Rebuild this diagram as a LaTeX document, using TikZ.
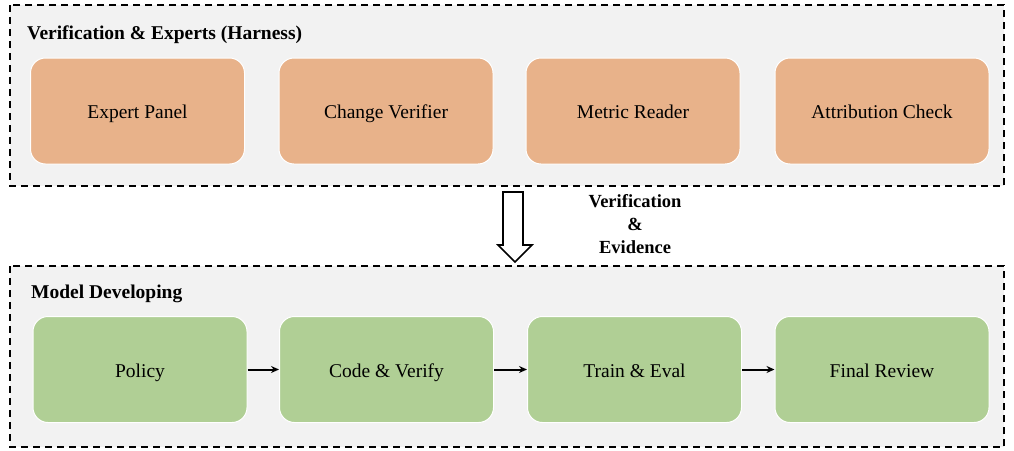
\documentclass[tikz,border=0pt]{standalone}
\usepackage{fontspec}
\setmainfont{Liberation Serif}
\usetikzlibrary{arrows.meta}
\definecolor{panelbg}{HTML}{F2F2F2}
\definecolor{orangebox}{HTML}{E8B28A}
\definecolor{greenbox}{HTML}{B0CF95}
\tikzset{
  panel/.style={draw=black, fill=panelbg, line width=1.6pt, dash pattern=on 7pt off 5pt},
  card/.style={draw=white, line width=1pt, rounded corners=15pt, minimum width=214pt, minimum height=106pt, inner sep=0pt, text height=19pt, text depth=4pt, font=\fontsize{19.5}{22}\selectfont, text=black},
  ocard/.style={card, fill=orangebox},
  gcard/.style={card, fill=greenbox},
  ptitle/.style={anchor=west, inner sep=0pt, font=\fontsize{19.5}{22}\selectfont\bfseries},
  flow/.style={-{Stealth[length=8pt,width=7pt]}, line width=2pt, black},
}
\begin{document}
\begin{tikzpicture}[x=1pt,y=-1pt]
\useasboundingbox (0,0) rectangle (1014,450);
% panels
\path[panel] (10,5) rectangle (1004,186);
\path[panel] (10,266) rectangle (1004,447);
\node[ptitle] (t1) at (27,35) {Verification \& Experts (Harness)};
\node[ptitle] (t2) at (31,294) {Model Developing};
% top cards
\node[ocard] (ep) at (137.5,111) {Expert Panel};
\node[ocard] (cv) at (386,111) {Change Verifier};
\node[ocard] (mr) at (633,111) {Metric Reader};
\node[ocard] (ac) at (882,111) {Attribution Check};
% bottom cards
\node[gcard] (po) at (140,369.5) {Policy};
\node[gcard] (cvf) at (386.5,369.5) {Code \& Verify};
\node[gcard] (te) at (634.5,369.5) {Train \& Eval};
\node[gcard] (fr) at (882,369.5) {Final Review};
\draw[flow] (po) -- (cvf);
\draw[flow] (cvf) -- (te);
\draw[flow] (te) -- (fr);
% big hollow arrow
\coordinate (as) at (515,192);
\coordinate (at) at (515,262);
\draw[line width=1.6pt, fill=white, line join=miter]
  (503,192) -- (523,192) -- (523,245) -- (532,245) -- (at) -- (498,245) -- (503,245) -- cycle;
\node[align=center, font=\fontsize{18.5}{23}\selectfont\bfseries, inner sep=0pt] (lab) at (635,224) {Verification\\\&\\Evidence};
\end{tikzpicture}
\end{document}
